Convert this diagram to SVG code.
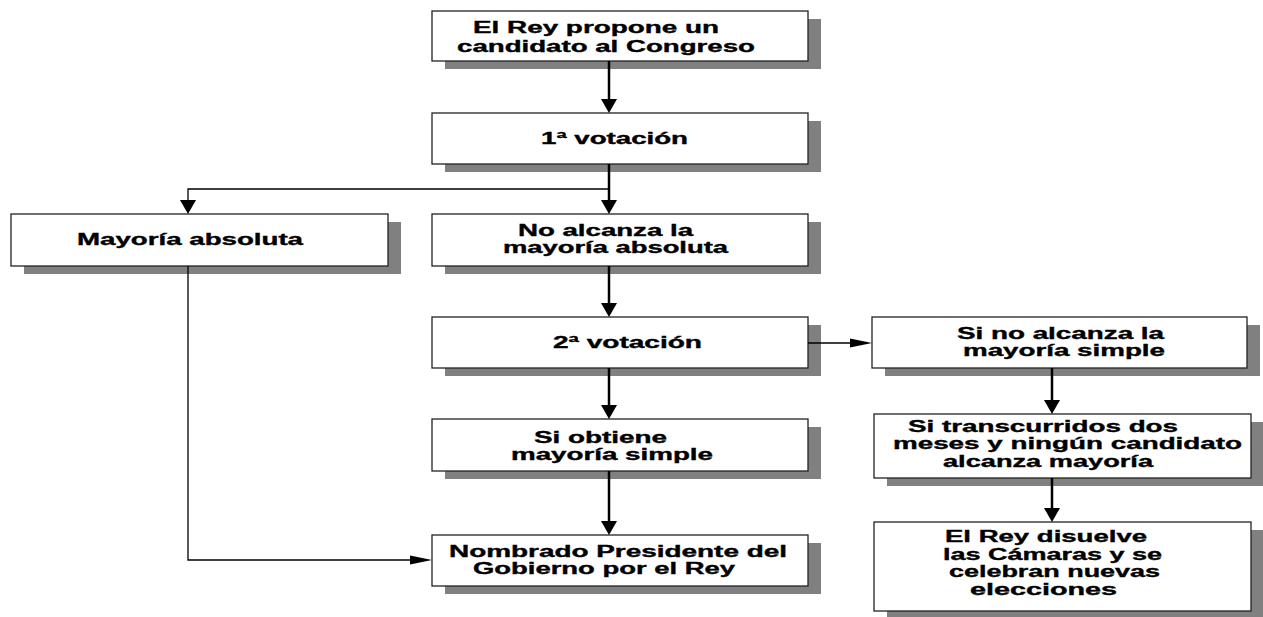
<svg xmlns="http://www.w3.org/2000/svg" width="1263" height="617" viewBox="0 0 1263 617">
<style>
.shadow{fill:#808080;stroke:none}
.box{fill:#ffffff;stroke:#222222;stroke-width:1.3}
.t{font-family:"Liberation Sans",Arial,sans-serif;font-weight:bold;font-size:16px;fill:#000000;stroke:#000000;stroke-width:0.35}
.thick{fill:none;stroke:#000000;stroke-width:2.5}
.thin{fill:none;stroke:#000000;stroke-width:1.3}
.head{fill:#000000;stroke:none}
</style>
<rect width="1263" height="617" fill="#ffffff"/>
<g id="n1">
<rect class="shadow" x="445" y="19" width="376" height="50"/>
<rect class="box" x="432" y="11" width="376" height="50"/>
<text class="t" x="473" y="33" textLength="246" lengthAdjust="spacingAndGlyphs">El Rey propone un</text>
<text class="t" x="457" y="52" textLength="298" lengthAdjust="spacingAndGlyphs">candidato al Congreso</text>
</g>
<g id="n2">
<rect class="shadow" x="445" y="121" width="376" height="51"/>
<rect class="box" x="432" y="113" width="376" height="51"/>
<text class="t" x="541" y="144" textLength="147" lengthAdjust="spacingAndGlyphs">1ª votación</text>
</g>
<g id="n3">
<rect class="shadow" x="24" y="222" width="377" height="52"/>
<rect class="box" x="11" y="214" width="377" height="52"/>
<text class="t" x="77" y="245" textLength="226" lengthAdjust="spacingAndGlyphs">Mayoría absoluta</text>
</g>
<g id="n4">
<rect class="shadow" x="445" y="222" width="376" height="52"/>
<rect class="box" x="432" y="214" width="376" height="52"/>
<text class="t" x="518" y="236" textLength="175" lengthAdjust="spacingAndGlyphs">No alcanza la</text>
<text class="t" x="503" y="253" textLength="225" lengthAdjust="spacingAndGlyphs">mayoría absoluta</text>
</g>
<g id="n5">
<rect class="shadow" x="445" y="325" width="376" height="51"/>
<rect class="box" x="432" y="317" width="376" height="51"/>
<text class="t" x="553" y="348" textLength="149" lengthAdjust="spacingAndGlyphs">2ª votación</text>
</g>
<g id="n6">
<rect class="shadow" x="885" y="325" width="375" height="51"/>
<rect class="box" x="872" y="317" width="375" height="51"/>
<text class="t" x="957" y="339" textLength="207" lengthAdjust="spacingAndGlyphs">Si no alcanza la</text>
<text class="t" x="963" y="356" textLength="202" lengthAdjust="spacingAndGlyphs">mayoría simple</text>
</g>
<g id="n7">
<rect class="shadow" x="445" y="427" width="376" height="52"/>
<rect class="box" x="432" y="419" width="376" height="52"/>
<text class="t" x="534" y="443" textLength="133" lengthAdjust="spacingAndGlyphs">Si obtiene</text>
<text class="t" x="511" y="460" textLength="202" lengthAdjust="spacingAndGlyphs">mayoría simple</text>
</g>
<g id="n8">
<rect class="shadow" x="445" y="543" width="376" height="51"/>
<rect class="box" x="432" y="535" width="376" height="51"/>
<text class="t" x="449" y="557" textLength="338" lengthAdjust="spacingAndGlyphs">Nombrado Presidente del</text>
<text class="t" x="473" y="574" textLength="262" lengthAdjust="spacingAndGlyphs">Gobierno por el Rey</text>
</g>
<g id="n9">
<rect class="shadow" x="887" y="422" width="377" height="64"/>
<rect class="box" x="874" y="414" width="377" height="64"/>
<text class="t" x="908" y="432" textLength="270" lengthAdjust="spacingAndGlyphs">Si transcurridos dos</text>
<text class="t" x="893" y="449" textLength="349" lengthAdjust="spacingAndGlyphs">meses y ningún candidato</text>
<text class="t" x="943" y="467" textLength="210" lengthAdjust="spacingAndGlyphs">alcanza mayoría</text>
</g>
<g id="n10">
<rect class="shadow" x="887" y="530" width="377" height="89"/>
<rect class="box" x="874" y="522" width="377" height="89"/>
<text class="t" x="945" y="542" textLength="202" lengthAdjust="spacingAndGlyphs">El Rey disuelve</text>
<text class="t" x="943" y="560" textLength="219" lengthAdjust="spacingAndGlyphs">las Cámaras y se</text>
<text class="t" x="949" y="577" textLength="211" lengthAdjust="spacingAndGlyphs">celebran nuevas</text>
<text class="t" x="970" y="595" textLength="147" lengthAdjust="spacingAndGlyphs">elecciones</text>
</g>
<g id="connectors">
<line class="thick" x1="609" y1="61" x2="609" y2="100"/>
<polygon class="head" points="601,99 617,99 609,113"/>
<line class="thick" x1="609" y1="164" x2="609" y2="201"/>
<polygon class="head" points="601,200 617,200 609,214"/>
<polyline class="thin" points="609,189 188,189 188,201"/>
<polygon class="head" points="180,200 196,200 188,214"/>
<line class="thick" x1="609" y1="266" x2="609" y2="304"/>
<polygon class="head" points="601,303 617,303 609,317"/>
<line class="thin" x1="808" y1="343" x2="852" y2="343"/>
<polygon class="head" points="850,338.5 850,347.5 872,343"/>
<line class="thick" x1="609" y1="368" x2="609" y2="406"/>
<polygon class="head" points="601,405 617,405 609,419"/>
<line class="thick" x1="609" y1="471" x2="609" y2="522"/>
<polygon class="head" points="601,521 617,521 609,535"/>
<polyline class="thin" points="188,266 188,560 412,560"/>
<polygon class="head" points="410,555.5 410,564.5 432,560"/>
<line class="thick" x1="1052" y1="368" x2="1052" y2="401"/>
<polygon class="head" points="1044,400 1060,400 1052,414"/>
<line class="thick" x1="1052" y1="478" x2="1052" y2="509"/>
<polygon class="head" points="1044,508 1060,508 1052,522"/>
</g>
</svg>
